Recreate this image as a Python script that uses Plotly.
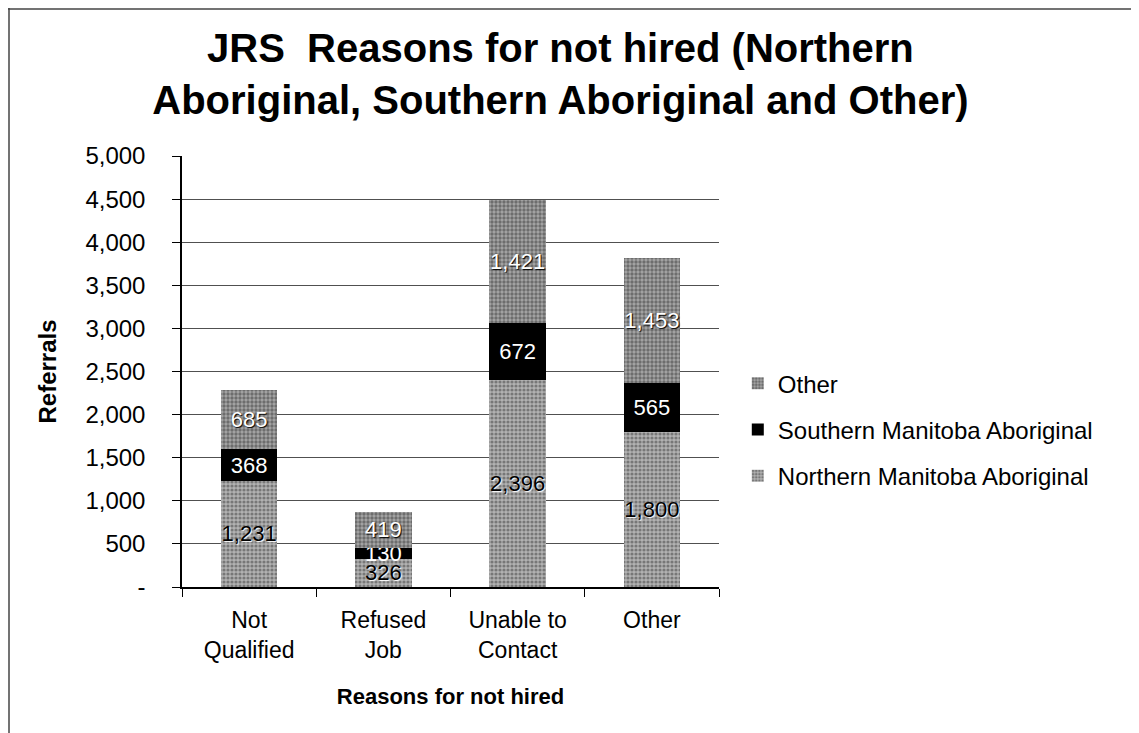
import plotly.graph_objects as go

categories = ["Not<br>Qualified", "Refused<br>Job", "Unable to<br>Contact", "Other"]
northern = [1231, 326, 2396, 1800]
southern = [368, 130, 672, 565]
other = [685, 419, 1421, 1453]

y_ticks = [0, 500, 1000, 1500, 2000, 2500, 3000, 3500, 4000, 4500, 5000]
y_labels = ["-"] + [f"{v:,}" for v in y_ticks[1:]]

# page is drawn 8px in from the top-left corner (body margin)
W, H = 1139, 733
L, R, T, B = 174, 428, 148, 154
PW, PH = W - L - R, H - T - B

fig = go.Figure()
fig.add_bar(
    x=categories, y=northern, name="Northern Manitoba Aboriginal",
    legendgroup="n", legendrank=3,
    marker=dict(color="#969696", line=dict(width=0),
                pattern=dict(shape=".", fgcolor="#3c3c3c", bgcolor="#b2b2b2", size=4, solidity=0.5)),
    text=[f"{v:,}" for v in northern], textposition="inside", insidetextanchor="middle",
    textangle=0, textfont=dict(color="#000000", size=22, shadow="1px 1px 1px white"),
)
fig.add_bar(
    x=categories, y=southern, name="Southern Manitoba Aboriginal",
    legendgroup="s", legendrank=2,
    marker=dict(color="#000000", line=dict(width=0)),
    text=[f"{v:,}" for v in southern], textposition="inside", insidetextanchor="middle",
    textangle=0, textfont=dict(color="white", size=22),
)
fig.add_bar(
    x=categories, y=other, name="Other",
    legendgroup="o", legendrank=1,
    marker=dict(color="#888888", line=dict(width=0),
                pattern=dict(shape=".", fgcolor="#333333", bgcolor="#a6a6a6", size=4, solidity=0.55)),
    text=[f"{v:,}" for v in other], textposition="inside", insidetextanchor="middle",
    textangle=0, textfont=dict(color="white", size=22, shadow="1px 1px 1px black"),
)

fig.update_layout(
    barmode="stack",
    bargap=0.58,
    width=W, height=H,
    margin=dict(l=L, r=R, t=T, b=B),
    paper_bgcolor="white", plot_bgcolor="white",
    font=dict(family="Liberation Sans, Arial", size=24, color="black"),
    title=dict(
        text="<b>JRS  Reasons for not hired (Northern<br>Aboriginal, Southern Aboriginal and Other)</b>",
        x=0.485, xanchor="center", yref="container", y=1 - 54 / H, yanchor="top",
        pad=dict(t=0, b=0), font=dict(size=40),
    ),
    uniformtext=dict(minsize=22, mode="show"),
    legend=dict(
        x=1.035, xanchor="left", y=0.365, yanchor="middle",
        traceorder="grouped", font=dict(size=24),
        tracegroupgap=12, itemwidth=30,
    ),
    shapes=[
        dict(type="line", xref="paper", yref="paper",
             x0=-L / PW + 1 / PW, x1=-L / PW + 1 / PW, y0=-B / PH, y1=1 + T / PH,
             line=dict(color="#444444", width=1.5)),
        dict(type="line", xref="paper", yref="paper",
             x0=-L / PW, x1=1 + R / PW, y0=1 + (T - 1) / PH, y1=1 + (T - 1) / PH,
             line=dict(color="#444444", width=1.5)),
    ],
)

fig.update_xaxes(
    title=dict(text="<b>Reasons for not hired</b>", font=dict(size=22), standoff=26),
    showline=True, linecolor="black", linewidth=1.5,
    ticks="outside", tickson="boundaries", ticklen=8, tickcolor="black",
    ticklabelstandoff=12, tickfont=dict(size=23),
)
fig.update_yaxes(
    title=dict(text="<b>Referrals</b>", font=dict(size=24), standoff=22),
    range=[0, 5000], tickvals=y_ticks, ticktext=y_labels,
    showline=True, linecolor="black", linewidth=1.5,
    ticks="outside", ticklen=8, tickcolor="black", ticklabelstandoff=22,
    showgrid=True, gridcolor="#505050", gridwidth=1,
    tickfont=dict(size=24), zeroline=False,
)

fig.write_html("out.html")
